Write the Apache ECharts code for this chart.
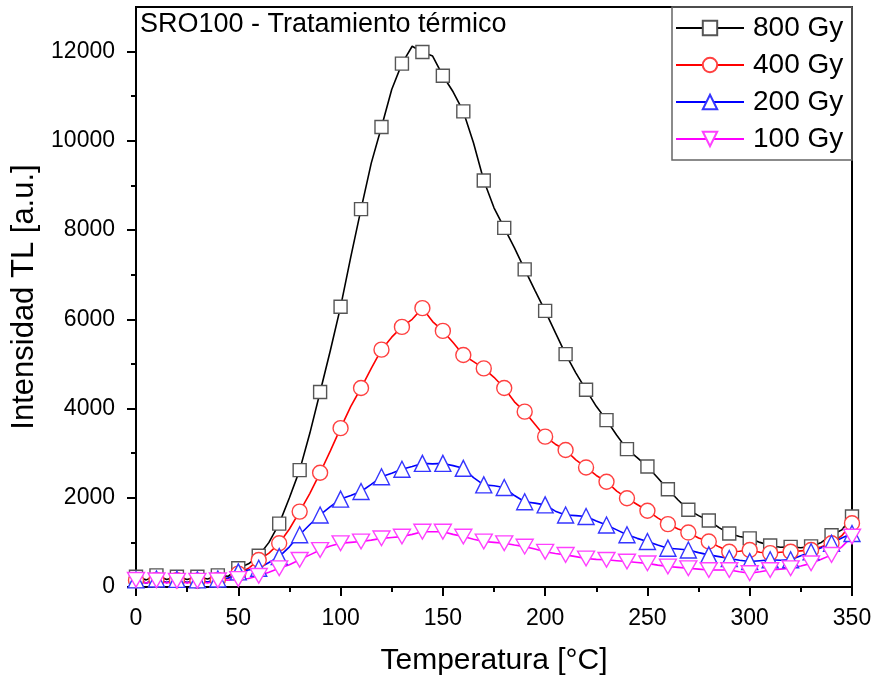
<!DOCTYPE html>
<html><head><meta charset="utf-8">
<script src="https://cdn.jsdelivr.net/npm/echarts@6/dist/echarts.min.js"></script>
<style>html,body{margin:0;padding:0;background:#fff}#chart{width:878px;height:681px}</style>
</head><body><div id="chart"></div>
<script>
const temperatures = [
  0,5,10,15,20,25,30,35,40,45,
  50,55,60,65,70,75,80,85,90,95,
  100,105,110,115,120,125,130,135,140,145,
  150,155,160,165,170,175,180,185,190,195,
  200,205,210,215,220,225,230,235,240,245,
  250,255,260,265,270,275,280,285,290,295,
  300,305,310,315,320,325,330,335,340,345,
  350];
const gy800 = [
  230,160,260,170,230,170,230,180,260,240,
  420,520,700,1000,1420,2000,2620,3450,4370,5300,
  6280,7400,8470,9500,10310,11150,11730,12120,11990,11900,
  11460,11100,10660,9950,9110,8500,8050,7600,7120,6650,
  6190,5700,5220,4800,4420,4050,3740,3400,3090,2900,
  2700,2450,2190,1950,1730,1600,1490,1330,1200,1130,
  1090,1000,930,890,900,880,910,1000,1160,1280,
  1580];
const gy400 = [
  150,90,160,100,150,100,140,110,160,190,
  300,420,606,760,980,1300,1690,2100,2560,3050,
  3560,4050,4460,4900,5320,5600,5830,6000,6250,5950,
  5740,5480,5200,5050,4900,4700,4460,4150,3930,3650,
  3370,3200,3070,2850,2680,2500,2360,2150,1990,1850,
  1710,1550,1410,1300,1220,1100,1020,900,790,800,
  830,780,760,780,790,810,830,900,980,1150,
  1430];
const gy200 = [
  160,90,180,100,170,100,160,110,180,200,
  340,380,420,550,680,900,1170,1400,1615,1800,
  1970,2050,2140,2300,2470,2550,2640,2700,2770,2760,
  2770,2720,2660,2450,2290,2270,2230,2050,1910,1880,
  1840,1700,1615,1600,1580,1480,1390,1280,1170,1090,
  1020,940,870,850,830,770,720,680,640,600,
  570,590,610,600,610,700,790,880,980,1100,
  1200];
const gy100 = [
  160,90,150,90,140,90,140,90,150,150,
  180,190,250,330,420,500,610,720,830,920,
  980,1000,1020,1050,1090,1110,1130,1180,1240,1240,
  1240,1180,1130,1070,1020,1000,980,940,905,850,
  790,750,720,680,640,620,610,590,570,550,
  530,490,460,440,420,400,380,380,380,340,
  310,340,380,400,420,470,530,620,720,900,
  1130];
const seriesNames = ['800 Gy', '400 Gy', '200 Gy', '100 Gy'];
const yMajorTicks = [0, 2000, 4000, 6000, 8000, 10000, 12000];
const yMinorTicks = [1000, 3000, 5000, 7000, 9000, 11000];

const FONT = '"Liberation Sans", Arial, sans-serif';
const chart = echarts.init(document.getElementById('chart'), null, {renderer: 'canvas'});

function pairs(vals) { return temperatures.map((t, i) => [t, vals[i]]); }
function markerSize(s) { return function (v, p) { return p.dataIndex % 2 === 0 ? s : 0; }; }
function mk(name, vals, lineColor, symbol, size, border) {
  return {
    name: name, type: 'line', data: pairs(vals),
    symbol: symbol, symbolSize: markerSize(size), showSymbol: true, showAllSymbol: true,
    symbolKeepAspect: true,
    lineStyle: {color: lineColor, width: 1.6},
    itemStyle: {color: '#fff', borderColor: border, borderWidth: 1.4},
    emphasis: {disabled: true}, animation: false
  };
}
const invTri = 'path://M0,0 L20,0 L10,17.3 Z';

const option = {
  animation: false,
  backgroundColor: '#fff',
  title: {
    text: 'SRO100 - Tratamiento térmico', left: 140, top: 11, padding: 0,
    textStyle: {fontSize: 27, fontWeight: 'normal', fontFamily: FONT, color: '#000'}
  },
  legend: {
    orient: 'vertical', left: 675, top: 14, padding: 0,
    itemWidth: 68, itemHeight: 18, itemGap: 9, selectedMode: false,
    data: seriesNames,
    textStyle: {fontSize: 28, fontFamily: FONT, color: '#000', padding: [0, 0, 0, 4]}
  },
  graphic: [{
    type: 'rect', z: 0, silent: true,
    shape: {x: 672, y: 7, width: 180, height: 153},
    style: {fill: 'none', stroke: '#666', lineWidth: 1.5}
  }],
  grid: {left: 136, right: 26, top: 7, bottom: 94, show: true, borderColor: '#000', borderWidth: 2, backgroundColor: 'transparent'},
  xAxis: {
    type: 'value', min: 0, max: 350, interval: 50,
    name: 'Temperatura [°C]', nameLocation: 'middle', nameGap: 59,
    nameTextStyle: {fontSize: 30, fontFamily: FONT, color: '#000'},
    axisLine: {show: true, onZero: false, lineStyle: {color: '#000', width: 2}},
    axisTick: {show: true, length: 9, lineStyle: {color: '#000', width: 2}},
    minorTick: {show: true, splitNumber: 2, length: 5, lineStyle: {color: '#000', width: 2}},
    axisLabel: {fontSize: 23, margin: 20, color: '#000', fontFamily: FONT, showMinLabel: true, showMaxLabel: true,
      formatter: function (v) { return String(v); }},
    splitLine: {show: false}
  },
  yAxis: [{
    type: 'value', min: 0, max: 13000,
    name: 'Intensidad TL [a.u.]', nameLocation: 'middle', nameGap: 86, nameRotate: 90,
    nameTextStyle: {fontSize: 31, fontFamily: FONT, color: '#000'},
    axisLine: {show: true, onZero: false, lineStyle: {color: '#000', width: 2}},
    axisTick: {show: true, length: 9, customValues: yMajorTicks, lineStyle: {color: '#000', width: 2}},
    axisLabel: {fontSize: 23, margin: 21, color: '#000', fontFamily: FONT, customValues: yMajorTicks,
      formatter: function (v) { return String(v); }},
    splitLine: {show: false}
  }, {
    type: 'value', min: 0, max: 13000, position: 'left',
    axisLine: {show: false},
    axisTick: {show: true, length: 5, customValues: yMinorTicks, lineStyle: {color: '#000', width: 2}},
    axisLabel: {show: false},
    splitLine: {show: false}
  }],
  series: [
    mk(seriesNames[0], gy800, '#000000', 'rect', 13, '#555555'),
    mk(seriesNames[1], gy400, '#ff0000', 'circle', 15, '#ff4040'),
    mk(seriesNames[2], gy200, '#0000ff', 'triangle', 16, '#3535ff'),
    mk(seriesNames[3], gy100, '#ff00ff', invTri, 17, '#ff40ff')
  ]
};
chart.setOption(option);
</script></body></html>
